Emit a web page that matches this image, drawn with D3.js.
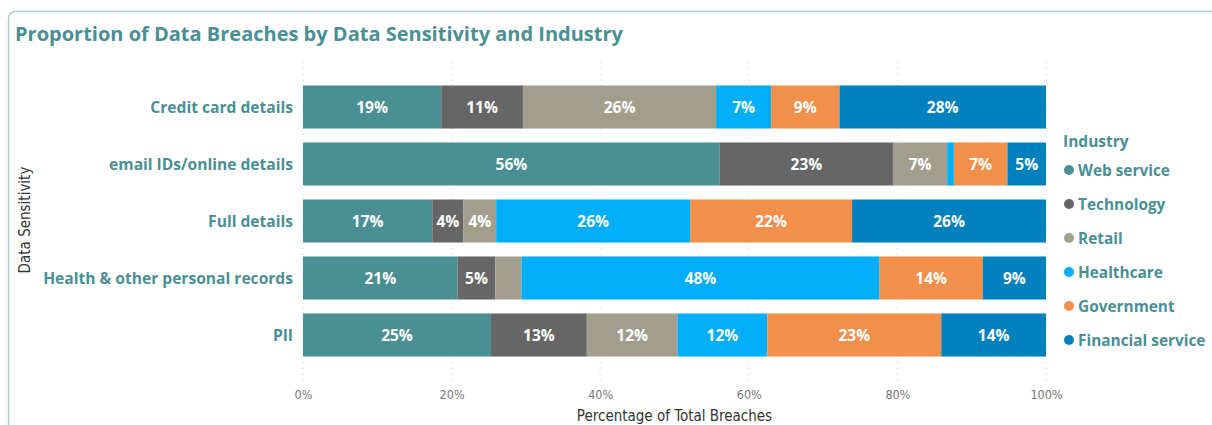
<!DOCTYPE html>
<html>
<head>
<meta charset="utf-8">
<script src="https://cdn.jsdelivr.net/npm/d3@7"></script>
<style>
  html, body { margin: 0; padding: 0; background: #ffffff; }
  svg { display: block; }
</style>
</head>
<body>
<svg id="chart" width="1212" height="425"></svg>
<script>
// Sensitivity categories, top to bottom
const categories = ["Credit card details", "email IDs/online details", "Full details", "Health & other personal records", "PII"];
// Industries, stacked left to right
const industries = ["Web service", "Technology", "Retail", "Healthcare", "Government", "Financial service"];
const industryColors = ["#4A8F93", "#666666", "#A19F8C", "#01AEF7", "#F28F4A", "#0080BD"];

// Share of breaches (%) per industry, one array per category
const creditCard = [18.6, 11.0, 26.0, 7.4, 9.2, 27.8];
const emailOnline = [56.1, 23.3, 7.3, 0.9, 7.2, 5.2];
const fullDetails = [17.4, 4.2, 4.4, 26.1, 21.8, 26.1];
const healthRecords = [20.8, 5.1, 3.5, 48.2, 13.9, 8.5];
const pii = [25.3, 12.9, 12.2, 12.1, 23.4, 14.1];

const tickValues = [0, 20, 40, 60, 80, 100];

const seriesByCategory = [creditCard, emailOnline, fullDetails, healthRecords, pii];

const teal = "#4A8F93";
const svg = d3.select("#chart");

// Card frame
svg.append("path")
  .attr("d", "M8.5,425 L8.5,19 Q8.5,11.5 16,11.5 L1212,11.5")
  .attr("fill", "none")
  .attr("stroke", "#A6CFD0")
  .attr("stroke-width", 1.5);

// Title
svg.append("text")
  .attr("x", 15).attr("y", 41)
  .attr("fill", teal)
  .attr("font-family", "'Open Sans', sans-serif")
  .attr("font-weight", 700)
  .attr("font-size", 20)
  .text("Proportion of Data Breaches by Data Sensitivity and Industry");

const x = d3.scaleLinear().domain([0, 100]).range([303, 1046]);
const y = d3.scaleBand().domain(categories).range([78.5, 363.5]).paddingInner(0.245).paddingOuter(0.1225);

// Dotted vertical gridlines
svg.append("g").selectAll("line")
  .data(tickValues)
  .join("line")
  .attr("x1", d => x(d)).attr("x2", d => x(d))
  .attr("y1", 62).attr("y2", 381)
  .attr("stroke", "#C8C8C8")
  .attr("stroke-width", 1)
  .attr("stroke-dasharray", "1,5");

// Stacked rows
const rows = categories.map((c, i) => {
  const obj = { category: c };
  industries.forEach((ind, j) => obj[ind] = seriesByCategory[i][j]);
  return obj;
});
const stacked = d3.stack().keys(industries)(rows);

const layers = svg.append("g").selectAll("g")
  .data(stacked)
  .join("g")
  .attr("fill", (d, i) => industryColors[i]);

layers.selectAll("rect")
  .data(d => d)
  .join("rect")
  .attr("x", d => x(d[0]))
  .attr("y", d => y(d.data.category))
  .attr("width", d => x(d[1]) - x(d[0]))
  .attr("height", y.bandwidth());

// Value labels inside segments
const labelGroup = svg.append("g")
  .attr("font-family", "'Open Sans', sans-serif")
  .attr("font-weight", 700)
  .attr("font-size", 15.5)
  .attr("fill", "#ffffff")
  .attr("text-anchor", "middle");

stacked.forEach(layer => {
  layer.forEach(d => {
    const w = x(d[1]) - x(d[0]);
    const v = d[1] - d[0];
    const t = labelGroup.append("text")
      .attr("x", (x(d[0]) + x(d[1])) / 2)
      .attr("y", y(d.data.category) + y.bandwidth() / 2)
      .attr("dy", "0.36em")
      .text(Math.round(v) + "%");
    if (t.node().getComputedTextLength() + 5 > w) t.remove();
  });
});

// Category labels
svg.append("g").selectAll("text")
  .data(categories)
  .join("text")
  .attr("x", 293)
  .attr("y", d => y(d) + y.bandwidth() / 2)
  .attr("dy", "0.36em")
  .attr("text-anchor", "end")
  .attr("fill", teal)
  .attr("font-family", "'Open Sans', sans-serif")
  .attr("font-weight", 700)
  .attr("font-size", 15.6)
  .text(d => d);

// X axis tick labels
const xAxis = d3.axisBottom(x).tickValues(tickValues).tickFormat(d => d + "%").tickSize(0).tickPadding(0);
const gx = svg.append("g").attr("transform", "translate(0,390)").call(xAxis);
gx.select(".domain").remove();
gx.selectAll("text")
  .attr("fill", "#777777")
  .attr("font-family", "'DejaVu Sans Condensed', 'DejaVu Sans', sans-serif")
  .attr("font-size", 12.5);

// Axis titles
svg.append("text")
  .attr("x", x(50)).attr("y", 421)
  .attr("text-anchor", "middle")
  .attr("fill", "#333333")
  .attr("font-family", "'DejaVu Sans Condensed', 'DejaVu Sans', sans-serif")
  .attr("font-size", 15)
  .text("Percentage of Total Breaches");

svg.append("text")
  .attr("transform", "translate(30,220) rotate(-90)")
  .attr("text-anchor", "middle")
  .attr("fill", "#333333")
  .attr("font-family", "'DejaVu Sans Condensed', 'DejaVu Sans', sans-serif")
  .attr("font-size", 15)
  .text("Data Sensitivity");

// Legend
const legend = svg.append("g")
  .attr("font-family", "'Open Sans', sans-serif")
  .attr("font-weight", 700)
  .attr("fill", teal);

legend.append("text")
  .attr("x", 1063).attr("y", 147)
  .attr("font-size", 15.5)
  .text("Industry");

const items = legend.selectAll("g.item")
  .data(industries)
  .join("g")
  .attr("class", "item")
  .attr("transform", (d, i) => `translate(1069,${170 + i * 34})`);

items.append("circle")
  .attr("r", 5)
  .attr("fill", (d, i) => industryColors[i]);

items.append("text")
  .attr("x", 9)
  .attr("dy", "0.36em")
  .attr("font-size", 15.4)
  .text(d => d);
</script>
</body>
</html>
